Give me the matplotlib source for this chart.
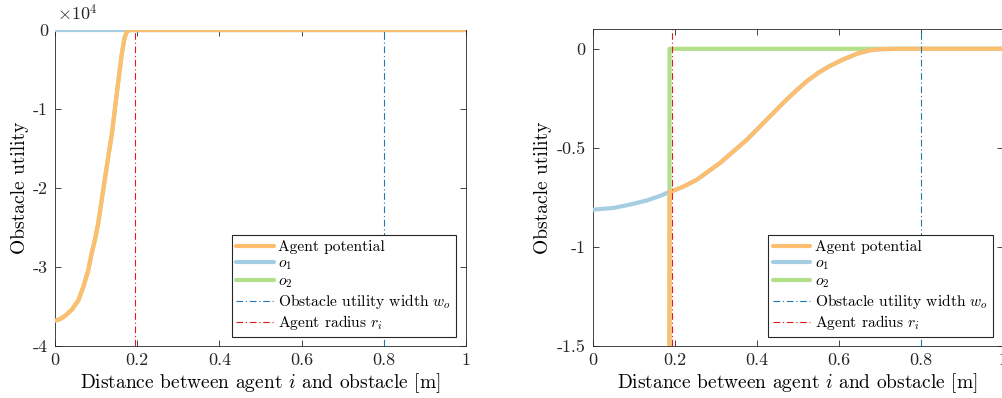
import matplotlib
matplotlib.use('Agg')
import matplotlib.pyplot as plt
from matplotlib.ticker import FuncFormatter

plt.rcParams['font.family'] = ['cmr10', 'DejaVu Serif']
plt.rcParams['mathtext.fontset'] = 'cm'
plt.rcParams['axes.unicode_minus'] = False
plt.rcParams['axes.formatter.use_mathtext'] = True

# distance [m] and utility values
steep_x = [0.0, 0.012, 0.024, 0.041, 0.057, 0.069, 0.081, 0.089, 0.097, 0.105,
           0.118, 0.130, 0.138, 0.146, 0.154, 0.162, 0.169, 0.174, 0.178, 0.182,
           0.187]
steep_y = [-36800, -36600, -36200, -35400, -34200, -32500, -30400, -28300,
           -26600, -24500, -20000, -15900, -13300, -9900, -6500, -3200, -1050,
           -300, -80, -20, -5]

tail_x = [0.188, 0.197, 0.22, 0.255, 0.311, 0.377, 0.425, 0.474, 0.50, 0.523,
          0.55, 0.576, 0.61, 0.645, 0.675, 0.70, 0.75, 1.0]
tail_y = [-0.722, -0.716, -0.697, -0.66, -0.576, -0.458, -0.357, -0.255, -0.205,
          -0.163, -0.122, -0.09, -0.055, -0.025, -0.008, -0.002, 0.0, 0.0]

pot_x = steep_x + tail_x
pot_y = steep_y + tail_y

o1_x = [0.0, 0.052, 0.092, 0.133, 0.165] + tail_x
o1_y = [-0.812, -0.803, -0.786, -0.765, -0.742] + tail_y

o2_x = steep_x + [0.188, 1.0]
o2_y = steep_y + [0.0, 0.0]

width_wo = 0.8
radius_ri = 0.195

C_POT = '#FDBF6F'
C_O1 = '#A6CEE3'
C_O2 = '#B2DF8A'
C_WO = '#1F78B4'
C_RI = '#E31A1C'
AX_C = '#262626'

fig = plt.figure(figsize=(10.03, 3.98), dpi=100)
W, H = 1003.0, 398.0
ax1 = fig.add_axes([55 / W, 52 / H, 411 / W, 316 / H])
ax2 = fig.add_axes([592.5 / W, 52 / H, 410 / W, 317 / H])


def draw(ax):
    ax.plot(o2_x, o2_y, color=C_O2, lw=3, label='$o_2$', zorder=2,
            solid_joinstyle='round', solid_capstyle='round')
    ax.plot(o1_x, o1_y, color=C_O1, lw=3, label='$o_1$', zorder=3,
            solid_joinstyle='round', solid_capstyle='round')
    ax.plot(pot_x, pot_y, color=C_POT, lw=3, label='Agent potential', zorder=4,
            solid_joinstyle='round', solid_capstyle='round')
    ax.axvline(width_wo, color=C_WO, lw=0.8, ls=(0, (6, 2.5, 1, 2.5)),
               label='Obstacle utility width $w_o$', zorder=5)
    ax.axvline(radius_ri, color=C_RI, lw=0.8, ls=(0, (6, 2.5, 1, 2.5)),
               label='Agent radius $r_i$', zorder=5)
    ax.set_xlim(0, 1)
    ax.set_xticks([0, 0.2, 0.4, 0.6, 0.8, 1])
    ax.xaxis.set_major_formatter(FuncFormatter(lambda v, p: f'{v:g}'))
    ax.tick_params(direction='in', top=True, right=True, length=4, width=0.6,
                   colors=AX_C, labelsize=13, pad=5)
    for s in ax.spines.values():
        s.set_color(AX_C)
        s.set_linewidth(0.6)
    ax.set_xlabel('Distance between agent $i$ and obstacle [m]', fontsize=14,
                  labelpad=2)
    ax.set_ylabel('Obstacle utility', fontsize=14, labelpad=3)
    h, l = ax.get_legend_handles_labels()
    order = [2, 1, 0, 3, 4]
    leg = ax.legend([h[i] for i in order], [l[i] for i in order],
                    loc='lower right', bbox_to_anchor=(0.976, 0.028),
                    fontsize=11.2, frameon=True, fancybox=False, framealpha=1,
                    edgecolor=AX_C, handlelength=2.4, handletextpad=0.3,
                    labelspacing=0.15, borderpad=0.3, borderaxespad=0)
    leg.get_frame().set_linewidth(0.8)


draw(ax1)
ax1.set_ylim(-40000, 0)
ax1.set_yticks([-40000, -30000, -20000, -10000, 0])
ax1.yaxis.set_major_formatter(FuncFormatter(lambda v, p: f'{v / 1e4:g}'))
ax1.text(0.005, 1.02, r'$\times 10^4$', transform=ax1.transAxes, fontsize=13,
         ha='left', va='bottom', color=AX_C)

draw(ax2)
ax2.set_ylim(-1.5, 0.1)
ax2.set_yticks([-1.5, -1, -0.5, 0])
ax2.yaxis.set_major_formatter(FuncFormatter(lambda v, p: f'{v:g}'))

fig.savefig('out.png', dpi=100)
